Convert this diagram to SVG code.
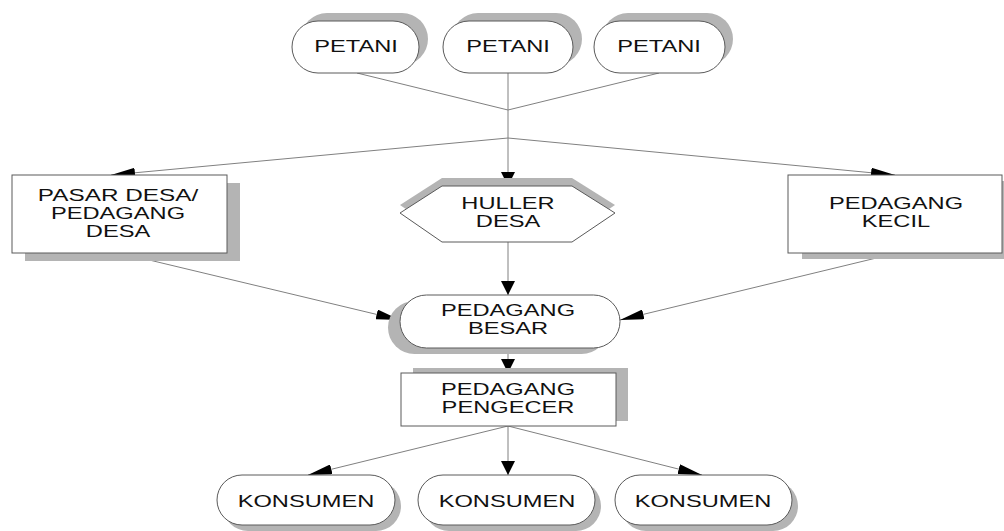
<svg xmlns="http://www.w3.org/2000/svg" width="1004" height="531" viewBox="0 0 1004 531">
<style>
.bg{fill:#ffffff}
.sh{fill:#b4b4b4;stroke:none}
.nd{fill:#ffffff;stroke:#5a5a5a;stroke-width:1}
.t{font-family:"Liberation Sans",Arial,sans-serif;font-size:16px;fill:#111111;text-anchor:middle}
.c{stroke:#808080;stroke-width:1;fill:none}
.cv{stroke:#808080;stroke-width:1;fill:none;marker-end:url(#av)}
.ch{stroke:#808080;stroke-width:1;fill:none;marker-end:url(#ahz)}
</style>
<defs>
<marker id="av" markerUnits="userSpaceOnUse" viewBox="0 0 14 14" markerWidth="14" markerHeight="14" refX="14" refY="7" orient="auto">
<path d="M0,0 L14,7 L0,14 z" fill="#000000"/>
</marker>
<marker id="ahz" markerUnits="userSpaceOnUse" viewBox="0 0 24 10" markerWidth="24" markerHeight="10" refX="24" refY="5" orient="auto">
<path d="M0,0 L24,5 L0,10 z" fill="#000000"/>
</marker>
</defs>
<rect class="bg" x="0" y="0" width="1004" height="531"/>

<g id="connectors">
<line class="c" x1="357" y1="73" x2="508" y2="110"/>
<line class="c" x1="659" y1="73" x2="508" y2="110"/>
<line class="cv" x1="508" y1="73" x2="508" y2="186"/>
<line class="ch" x1="508" y1="138" x2="111" y2="175"/>
<line class="ch" x1="508" y1="138" x2="895" y2="175"/>
<line class="cv" x1="508" y1="242" x2="508" y2="295"/>
<line class="ch" x1="120" y1="253" x2="400" y2="320"/>
<line class="ch" x1="897" y1="253" x2="620" y2="320"/>
<line class="cv" x1="508" y1="348" x2="508" y2="373"/>
<line class="ch" x1="508" y1="426" x2="308" y2="475"/>
<line class="cv" x1="508" y1="426" x2="508" y2="475"/>
<line class="ch" x1="508" y1="426" x2="702" y2="475"/>
</g>

<g id="petani1">
<rect class="sh" x="301" y="13" width="127" height="52" rx="26"/>
<rect class="nd" x="292" y="21" width="127" height="52" rx="26"/>
<text class="t" transform="translate(356,52) scale(1.48,1)">PETANI</text>
</g>
<g id="petani2">
<rect class="sh" x="452" y="13" width="130" height="52" rx="26"/>
<rect class="nd" x="443" y="21" width="130" height="52" rx="26"/>
<text class="t" transform="translate(508,52) scale(1.48,1)">PETANI</text>
</g>
<g id="petani3">
<rect class="sh" x="602" y="13" width="131" height="52" rx="26"/>
<rect class="nd" x="594" y="21" width="131" height="52" rx="26"/>
<text class="t" transform="translate(659,52) scale(1.48,1)">PETANI</text>
</g>

<g id="pasar-desa">
<rect class="sh" x="25" y="183" width="215" height="78"/>
<rect class="nd" x="12" y="175" width="215" height="78"/>
<text class="t" transform="translate(118,201) scale(1.52,1)">PASAR DESA/</text>
<text class="t" transform="translate(118,219) scale(1.48,1)">PEDAGANG</text>
<text class="t" transform="translate(118,237) scale(1.48,1)">DESA</text>
</g>

<g id="huller-desa">
<polygon class="sh" points="400,205 442,178 572,178 615,205 572,234 442,234"/>
<polygon class="nd" points="400,213 442,186 572,186 615,213 572,242 442,242"/>
<text class="t" transform="translate(508,209) scale(1.48,1)">HULLER</text>
<text class="t" transform="translate(508,227) scale(1.48,1)">DESA</text>
</g>

<g id="pedagang-kecil">
<rect class="sh" x="802" y="181" width="214" height="78"/>
<rect class="nd" x="788" y="175" width="214" height="78"/>
<text class="t" transform="translate(896,209) scale(1.48,1)">PEDAGANG</text>
<text class="t" transform="translate(896,227) scale(1.48,1)">KECIL</text>
</g>

<g id="pedagang-besar">
<rect class="sh" x="388" y="301" width="220" height="53" rx="26.5"/>
<rect class="nd" x="400" y="295" width="220" height="53" rx="26.5"/>
<text class="t" transform="translate(508,316) scale(1.48,1)">PEDAGANG</text>
<text class="t" transform="translate(508,334) scale(1.48,1)">BESAR</text>
</g>

<g id="pedagang-pengecer">
<rect class="sh" x="413" y="368" width="215" height="53"/>
<rect class="nd" x="401" y="373" width="215" height="53"/>
<text class="t" transform="translate(508,395) scale(1.48,1)">PEDAGANG</text>
<text class="t" transform="translate(508,413) scale(1.48,1)">PENGECER</text>
</g>

<g id="konsumen1">
<rect class="sh" x="223" y="481" width="178" height="50" rx="25"/>
<rect class="nd" x="217" y="475" width="178" height="50" rx="25"/>
<text class="t" transform="translate(306,507) scale(1.48,1)">KONSUMEN</text>
</g>
<g id="konsumen2">
<rect class="sh" x="424" y="481" width="177" height="50" rx="25"/>
<rect class="nd" x="418" y="475" width="177" height="50" rx="25"/>
<text class="t" transform="translate(507,507) scale(1.48,1)">KONSUMEN</text>
</g>
<g id="konsumen3">
<rect class="sh" x="621" y="481" width="177" height="50" rx="25"/>
<rect class="nd" x="615" y="475" width="177" height="50" rx="25"/>
<text class="t" transform="translate(703,507) scale(1.48,1)">KONSUMEN</text>
</g>
</svg>
